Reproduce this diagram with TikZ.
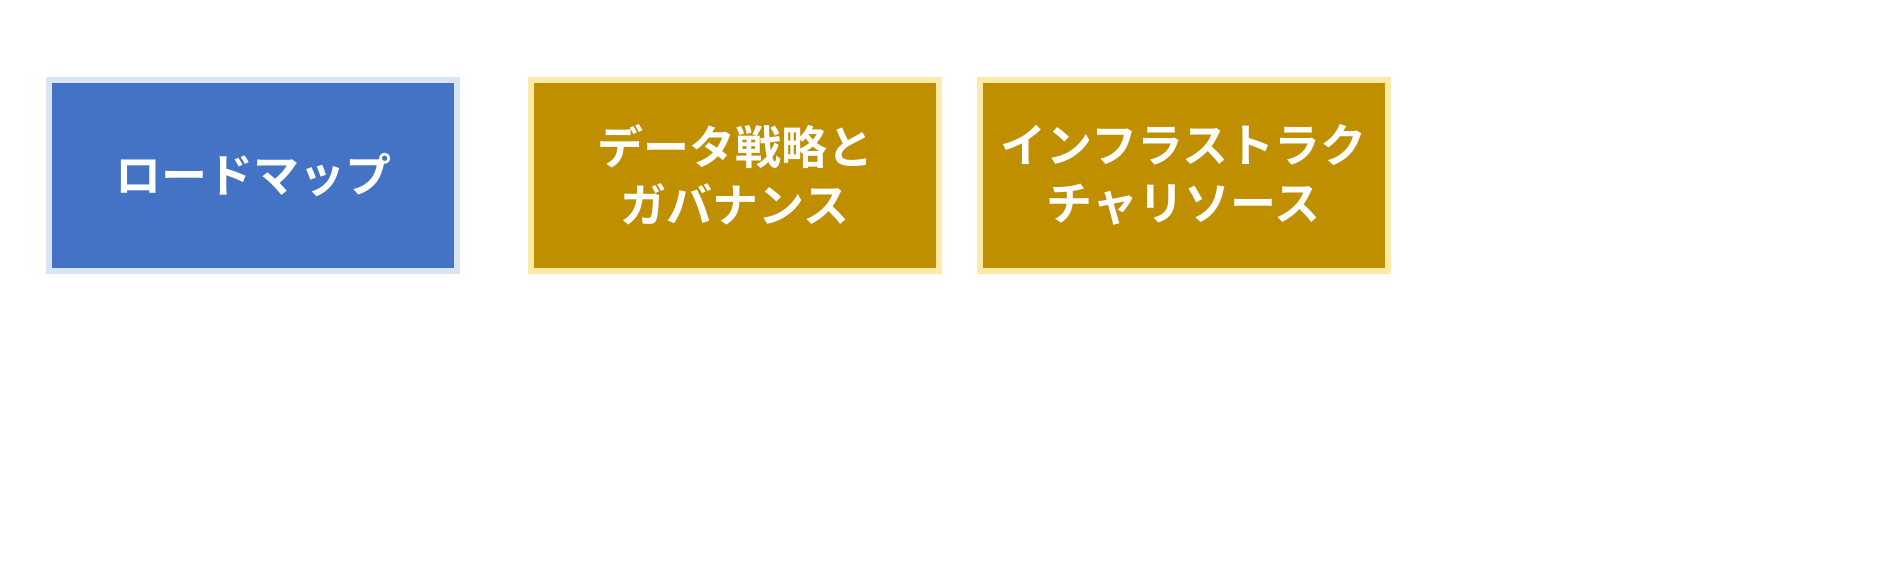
\documentclass[tikz,border=0pt]{standalone}
\usepackage{fontspec}
\newfontfamily\jpfont{Noto Sans CJK JP}[BoldFont={* Bold}]
\definecolor{blueF}{HTML}{4472C4}
\definecolor{blueB}{HTML}{D9E5F4}
\definecolor{goldF}{HTML}{BF8F00}
\definecolor{goldB}{HTML}{FDE9A8}
\begin{document}
\begin{tikzpicture}[x=1pt,y=-1pt,
  card/.style={draw, line width=6pt, minimum width=408pt, minimum height=191pt,
    inner sep=0pt, align=center, text=white,
    font=\jpfont\bfseries\fontsize{46}{58}\selectfont},
  bluecard/.style={card, fill=blueF, draw=blueB},
  goldcard/.style={card, fill=goldF, draw=goldB}]
\useasboundingbox (0,0) rectangle (1899,560);
\fill[white] (0,0) rectangle (1899,560);
\node[bluecard] (road) at (253,175) {ロードマップ};
\node[goldcard] (data) at (735,175) {データ戦略と\\ガバナンス};
\node[goldcard] (infra) at (1183.5,175) {インフラストラク\\チャリソース};
\end{tikzpicture}
\end{document}
